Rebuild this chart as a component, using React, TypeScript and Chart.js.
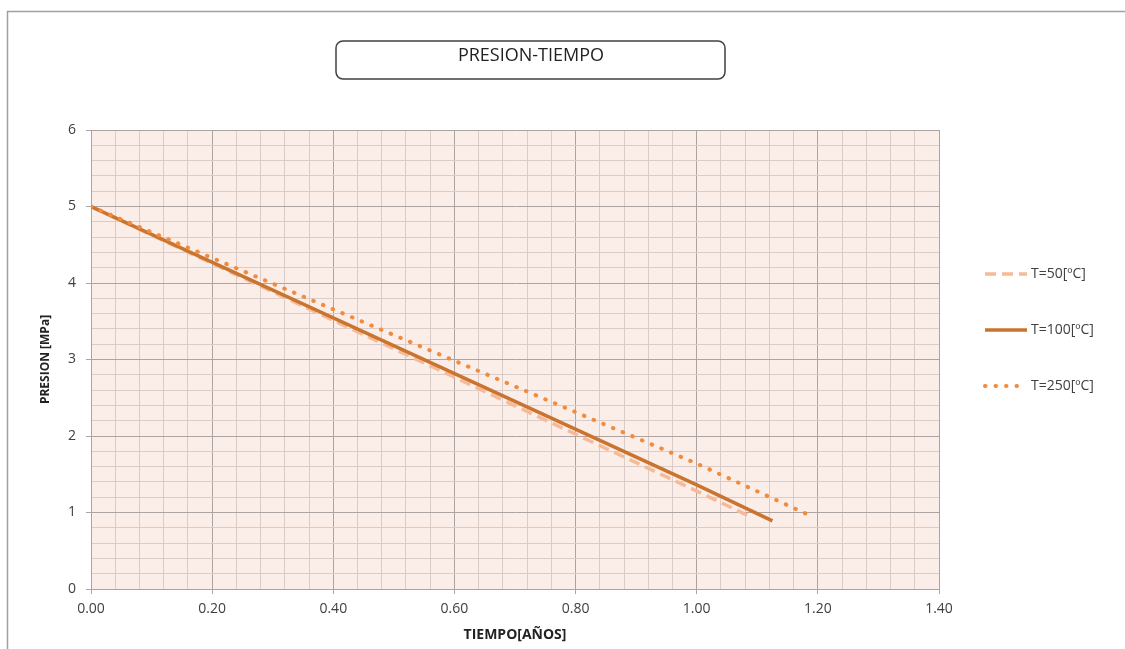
import React, { useEffect, useRef } from "react";
import { Chart, registerables } from "chart.js";
Chart.register(...registerables);

const chartTitle = "PRESION-TIEMPO";
const xAxisTitle = "TIEMPO[AÑOS]";
const yAxisTitle = "PRESION [MPa]";
const seriesNames = ["T=50[ºC]", "T=100[ºC]", "T=250[ºC]"];
const tiempo50 = [0, 1.0, 1.09];
const presion50 = [5, 1.28, 0.94];
const tiempo100 = [0, 1.0, 1.125];
const presion100 = [5, 1.36, 0.89];
const tiempo250 = [0, 1.0, 1.19];
const presion250 = [5, 1.64, 0.95];

const FONT = "'Open Sans', 'DejaVu Sans', sans-serif";

const isMajor = (v: number, step: number) => Math.abs(v / step - Math.round(v / step)) < 1e-6;

const decorPlugin = {
  id: "decor",
  beforeDraw(chart: any) {
    const { ctx, chartArea } = chart;
    ctx.save();
    ctx.fillStyle = "#ffffff";
    ctx.fillRect(0, 0, chart.width, chart.height);
    ctx.fillStyle = "#FBEDE8";
    ctx.fillRect(chartArea.left, chartArea.top, chartArea.right - chartArea.left, chartArea.bottom - chartArea.top);
    // outer border
    ctx.strokeStyle = "#A0A0A0";
    ctx.lineWidth = 1.5;
    ctx.strokeRect(7.5, 11.5, 1300, 1000);
    // title box
    const bx = 336, by = 41, bw = 389, bh = 38, r = 7;
    ctx.beginPath();
    ctx.moveTo(bx + r, by);
    ctx.lineTo(bx + bw - r, by);
    ctx.arcTo(bx + bw, by, bx + bw, by + r, r);
    ctx.lineTo(bx + bw, by + bh - r);
    ctx.arcTo(bx + bw, by + bh, bx + bw - r, by + bh, r);
    ctx.lineTo(bx + r, by + bh);
    ctx.arcTo(bx, by + bh, bx, by + bh - r, r);
    ctx.lineTo(bx, by + r);
    ctx.arcTo(bx, by, bx + r, by, r);
    ctx.closePath();
    ctx.strokeStyle = "#404040";
    ctx.lineWidth = 1.5;
    ctx.stroke();
    ctx.fillStyle = "#222222";
    ctx.font = `18px ${FONT}`;
    ctx.textAlign = "center";
    ctx.textBaseline = "middle";
    ctx.fillText(chartTitle, 531, 56);
    ctx.restore();
  },
  afterDraw(chart: any) {
    const { ctx } = chart;
    ctx.save();
    const ys = [274, 330, 386];
    chart.data.datasets.forEach((ds: any, i: number) => {
      ctx.beginPath();
      ctx.strokeStyle = ds.borderColor;
      ctx.lineWidth = ds.borderWidth;
      ctx.setLineDash(ds.borderDash || []);
      ctx.lineCap = ds.borderCapStyle || "butt";
      ctx.moveTo(985, ys[i]);
      ctx.lineTo(1027, ys[i]);
      ctx.stroke();
      ctx.setLineDash([]);
      ctx.fillStyle = "#404040";
      ctx.font = `14px ${FONT}`;
      ctx.textAlign = "left";
      ctx.textBaseline = "middle";
      ctx.fillText(ds.label, 1031, ys[i]);
    });
    ctx.restore();
  },
};

export default function App() {
  const ref = useRef<HTMLCanvasElement>(null);
  useEffect(() => {
    document.body.style.margin = "0";
    const toPts = (xs: number[], ys: number[]) => xs.map((x, i) => ({ x, y: ys[i] }));
    const chart = new Chart(ref.current!, {
      type: "line",
      data: {
        datasets: [
          {
            label: seriesNames[0],
            data: toPts(tiempo50, presion50),
            borderColor: "#F6BA98",
            borderWidth: 3.5,
            borderDash: [11, 6],
            pointRadius: 0,
            tension: 0,
            order: 2,
          },
          {
            label: seriesNames[1],
            data: toPts(tiempo100, presion100),
            borderColor: "#C9742F",
            borderWidth: 3.5,
            pointRadius: 0,
            tension: 0,
            order: 1,
          },
          {
            label: seriesNames[2],
            data: toPts(tiempo250, presion250),
            borderColor: "#F28B3B",
            borderWidth: 4,
            borderDash: [0.5, 10],
            borderCapStyle: "round",
            pointRadius: 0,
            tension: 0,
            order: 0,
          },
        ] as any,
      },
      options: {
        animation: false,
        responsive: false,
        layout: { padding: { left: 38, top: 130, right: 186, bottom: 0 } },
        plugins: { legend: { display: false }, tooltip: { enabled: false }, title: { display: false } },
        scales: {
          x: {
            type: "linear",
            min: 0,
            max: 1.4,
            afterFit: (s: any) => { s.height = 60; },
            ticks: {
              stepSize: 0.04,
              autoSkip: false,
              maxRotation: 0,
              padding: 7,
              color: "#404040",
              font: { family: FONT, size: 14 },
              callback: (v: any) => (isMajor(Number(v), 0.2) ? Number(v).toFixed(2) : ""),
            },
            grid: {
              color: (c: any) => (c.tick && isMajor(c.tick.value, 0.2) ? "#ABA4A2" : "#DACDC9"),
              tickColor: (c: any) => (c.tick && isMajor(c.tick.value, 0.2) ? "#ABA4A2" : "rgba(0,0,0,0)"),
              tickLength: 5,
              lineWidth: 1,
            },
            border: { color: "#ABA4A2" },
            title: {
              display: true,
              text: xAxisTitle,
              color: "#222222",
              font: { family: FONT, size: 14, weight: "bold" },
              padding: { top: 0, bottom: 6 },
            },
          },
          y: {
            type: "linear",
            min: 0,
            max: 6,
            afterFit: (s: any) => { s.width = 53; },
            ticks: {
              stepSize: 0.2,
              autoSkip: false,
              padding: 10,
              color: "#404040",
              font: { family: FONT, size: 14 },
              callback: (v: any) => (isMajor(Number(v), 1) ? String(Math.round(Number(v))) : ""),
            },
            grid: {
              color: (c: any) => (c.tick && isMajor(c.tick.value, 1) ? "#ABA4A2" : "#DACDC9"),
              tickColor: (c: any) => (c.tick && isMajor(c.tick.value, 1) ? "#ABA4A2" : "rgba(0,0,0,0)"),
              tickLength: 5,
              lineWidth: 1,
            },
            border: { color: "#ABA4A2" },
            title: {
              display: true,
              text: yAxisTitle,
              color: "#222222",
              font: { family: FONT, size: 12, weight: "bold" },
              padding: { top: 0, bottom: 0 },
            },
          },
        },
      } as any,
      plugins: [decorPlugin],
    });
    return () => chart.destroy();
  }, []);
  return (
    <div style={{ width: 1125, height: 649 }}>
      <canvas ref={ref} width={1125} height={649} style={{ display: "block", width: 1125, height: 649 }} />
    </div>
  );
}
